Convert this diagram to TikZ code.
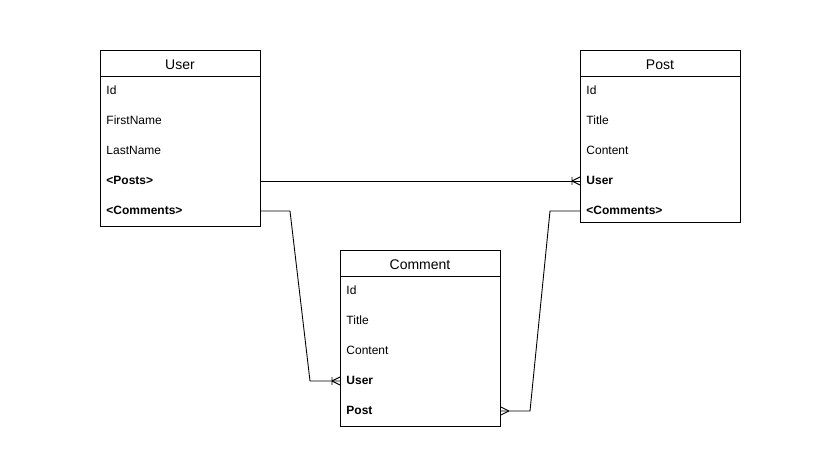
\documentclass[tikz,border=0pt]{standalone}
\usepackage{fontspec}
\setmainfont{Liberation Sans}
\begin{document}
\begin{tikzpicture}[x=1pt,y=-1pt,
  line width=0.9pt,
  entity/.style={draw, line width=0.9pt, minimum width=160pt, anchor=north west, inner sep=0pt},
  etitle/.style={font=\fontsize{14}{16}\selectfont, inner sep=0pt},
  field/.style={anchor=west, minimum width=160pt, minimum height=30pt, inner xsep=6pt, inner ysep=0pt,
    text width=148pt, align=left, text height=9.5pt, text depth=2pt, font=\fontsize{12}{14}\selectfont},
  key/.style={field, font=\fontsize{12}{14}\selectfont\bfseries}]
\useasboundingbox (0,0) rectangle (820,468);

% --- User entity
\node[entity, minimum height=176pt] (user) at (100,50) {};
\node[etitle] (usert) at (180,64.5) {User};
\draw ([yshift=-26pt]user.north west) -- ([yshift=-26pt]user.north east);
\node[field] (uid)    at (100,91)  {Id};
\node[field] (ufirst) at (100,121) {FirstName};
\node[field] (ulast)  at (100,151) {LastName};
\node[key]   (uposts) at (100,181) {<Posts>};
\node[key]   (ucomm)  at (100,211) {<Comments>};

% --- Post entity
\node[entity, minimum height=172pt] (post) at (580,50) {};
\node[etitle] (postt) at (660,64.5) {Post};
\draw ([yshift=-26pt]post.north west) -- ([yshift=-26pt]post.north east);
\node[field] (pid)      at (580,91)  {Id};
\node[field] (ptitle)   at (580,121) {Title};
\node[field] (pcontent) at (580,151) {Content};
\node[key]   (puser)    at (580,181) {User};
\node[key]   (pcomm)    at (580,211) {<Comments>};

% --- Comment entity
\node[entity, minimum height=176pt] (comment) at (340,250) {};
\node[etitle] (commentt) at (420,264.5) {Comment};
\draw ([yshift=-26pt]comment.north west) -- ([yshift=-26pt]comment.north east);
\node[field] (cid)      at (340,291) {Id};
\node[field] (ctitle)   at (340,321) {Title};
\node[field] (ccontent) at (340,351) {Content};
\node[key]   (cuser)    at (340,381) {User};
\node[key]   (cpost)    at (340,411) {Post};

% --- relationships
\coordinate (b1) at (290,211);
\coordinate (b2) at (310,381);
\coordinate (c1) at (550,211);
\coordinate (c2) at (530,411);

\draw (uposts.east) -- (puser.west);
\draw (ucomm.east) -- (b1) -- (b2) -- (cuser.west);
\draw (pcomm.west) -- (c1) -- (c2) -- (cpost.east);

% one-to-many ends (bar + crow's foot)
\draw ([xshift=-8pt]puser.west) -- ([yshift=4pt]puser.west)
      ([xshift=-8pt]puser.west) -- ([yshift=-4pt]puser.west)
      ([xshift=-8pt,yshift=4pt]puser.west) -- ([xshift=-8pt,yshift=-4pt]puser.west);
\draw ([xshift=-8pt]cuser.west) -- ([yshift=4pt]cuser.west)
      ([xshift=-8pt]cuser.west) -- ([yshift=-4pt]cuser.west)
      ([xshift=-8pt,yshift=4pt]cuser.west) -- ([xshift=-8pt,yshift=-4pt]cuser.west);
% many end (crow's foot only)
\draw ([xshift=8pt]cpost.east) -- ([yshift=4pt]cpost.east)
      ([xshift=8pt]cpost.east) -- ([yshift=-4pt]cpost.east);
\end{tikzpicture}
\end{document}
